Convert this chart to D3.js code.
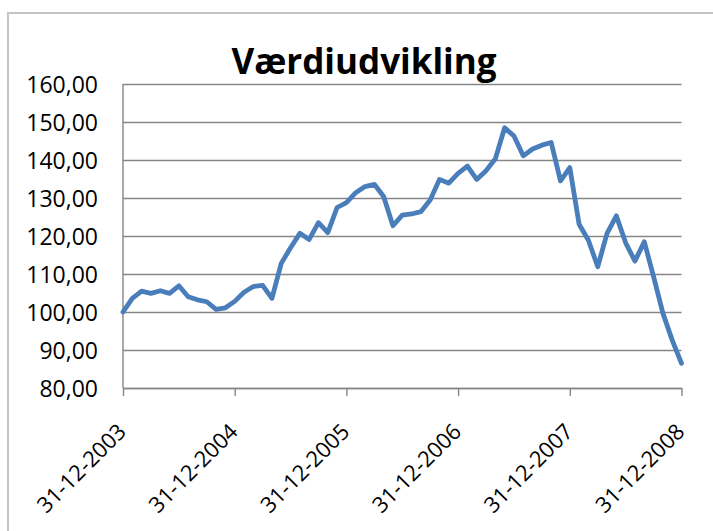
<!DOCTYPE html>
<html>
<head>
<meta charset="utf-8">
<script src="https://cdn.jsdelivr.net/npm/d3@7/dist/d3.min.js"></script>
<style>
  html, body { margin: 0; padding: 0; background: #fff; }
  svg { display: block; }
  .axis text { font-family: "Open Sans", sans-serif; fill: #000; }
</style>
</head>
<body>
<svg id="chart" width="713" height="531"></svg>
<script>
// Monthly portfolio value index, 31-12-2003 .. 31-12-2008 (start = 100)
const values = [
  100.0, 103.6, 105.5, 104.9, 105.6, 104.9, 106.9, 104.0, 103.2, 102.7, 100.7, 101.1,
  102.8, 105.2, 106.7, 107.0, 103.6, 112.8, 116.9, 120.7, 119.1, 123.5, 120.9, 127.5,
  128.8, 131.4, 133.0, 133.6, 130.4, 122.7, 125.5, 125.8, 126.4, 129.5, 134.9, 133.9,
  136.5, 138.4, 134.9, 137.2, 140.3, 148.5, 146.3, 141.1, 142.9, 143.9, 144.6, 134.5,
  138.0, 123.1, 118.9, 111.9, 120.7, 125.3, 118.2, 113.4, 118.5, 109.3, 99.7, 92.6,
  86.5
];
const yTicks = [80, 90, 100, 110, 120, 130, 140, 150, 160];
const xTickLabels = ["31-12-2003", "31-12-2004", "31-12-2005", "31-12-2006", "31-12-2007", "31-12-2008"];
const monthsPerLabel = 12;
const title = "Værdiudvikling";

const svg = d3.select("#chart");
const margin = { left: 123, top: 84, right: 713 - 681.5, bottom: 531 - 388 };
const width = 713 - margin.left - margin.right;
const height = 531 - margin.top - margin.bottom;

// chart area border
svg.append("rect")
  .attr("x", 8).attr("y", 13)
  .attr("width", 760).attr("height", 560)
  .attr("fill", "#fff")
  .attr("stroke", "#c4c4c4")
  .attr("stroke-width", 2);

const g = svg.append("g").attr("transform", `translate(${margin.left},${margin.top})`);

const x = d3.scaleLinear().domain([0, values.length - 1]).range([0, width]);
const y = d3.scaleLinear().domain([yTicks[0], yTicks[yTicks.length - 1]]).range([height, 0]);

const locale = d3.formatLocale({ decimal: ",", thousands: ".", grouping: [3], currency: ["", " kr."] });
const fmt = locale.format(".2f");

// y axis with horizontal gridlines
const yAxis = g.append("g").attr("class", "axis y")
  .call(d3.axisLeft(y).tickValues(yTicks).tickFormat(fmt).tickSize(-width).tickPadding(25));
yAxis.select(".domain").remove();
yAxis.selectAll(".tick line").attr("stroke", "#868686").attr("stroke-width", 1.4);
yAxis.selectAll(".tick text").style("font-size", "23px").attr("dy", "0.38em");

// left axis line
g.append("line")
  .attr("x1", 0).attr("x2", 0).attr("y1", 0).attr("y2", height)
  .attr("stroke", "#868686").attr("stroke-width", 1.4);

// x axis
const xTickVals = xTickLabels.map((_, i) => i * monthsPerLabel);
const xAxis = g.append("g").attr("class", "axis x")
  .attr("transform", `translate(0,${height})`)
  .call(d3.axisBottom(x).tickValues(xTickVals).tickFormat((d, i) => xTickLabels[i]).tickSize(8).tickSizeOuter(0));
xAxis.select(".domain").attr("stroke", "#868686").attr("stroke-width", 1.4);
xAxis.selectAll(".tick line").attr("stroke", "#868686").attr("stroke-width", 1.4);
xAxis.selectAll(".tick text")
  .style("font-size", "22px")
  .attr("text-anchor", "end")
  .attr("x", 0).attr("y", 0).attr("dy", 0)
  .attr("transform", "translate(4,45) rotate(-45)");

// value line
const line = d3.line()
  .x((d, i) => x(i))
  .y(d => y(d));

g.append("path")
  .datum(values)
  .attr("fill", "none")
  .attr("stroke", "#4a7ebb")
  .attr("stroke-width", 4.8)
  .attr("stroke-linejoin", "round")
  .attr("stroke-linecap", "round")
  .attr("d", line);

// title
svg.append("text")
  .attr("x", 364).attr("y", 74)
  .attr("text-anchor", "middle")
  .style("font-family", "'Open Sans', sans-serif")
  .style("font-weight", "bold")
  .style("font-size", "35px")
  .text(title);
</script>
</body>
</html>
